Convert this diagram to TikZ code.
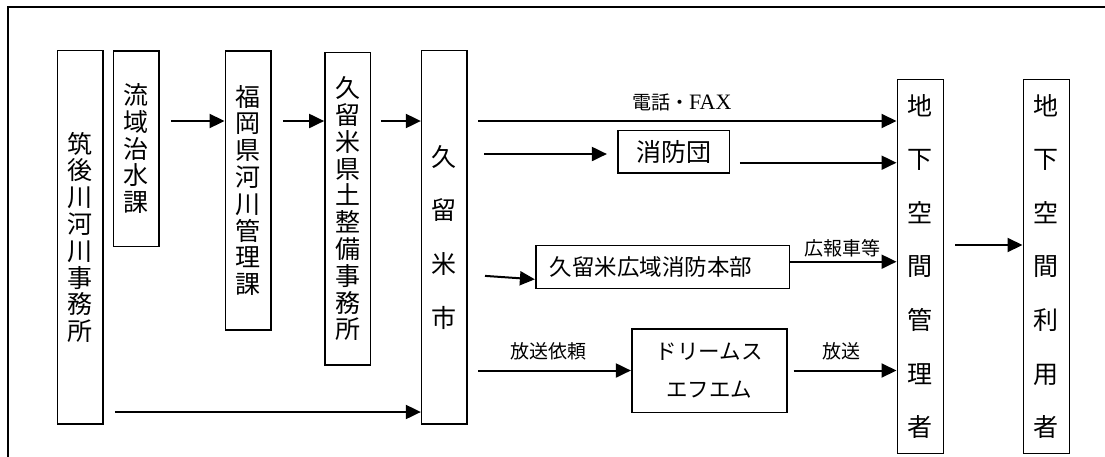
\documentclass[tikz,border=0pt]{standalone}
\usepackage{fontspec}
\newfontfamily\cjk{Noto Sans CJK JP}
\newfontfamily\ser{Liberation Serif}
\usetikzlibrary{arrows.meta}
\tikzset{
  box/.style={draw, line width=1.6, inner sep=0pt, align=center},
  vbox/.style={box, font=\cjk\fontsize{25}{26.8}\selectfont},
  wbox/.style={box, font=\cjk\fontsize{25}{53.6}\selectfont},
  lbl/.style={inner sep=0pt, font=\cjk\fontsize{19}{21}\selectfont},
  arr/.style={line width=2, -{Triangle[length=15,width=14]}},
  plain/.style={line width=2}
}
\begin{document}
\begin{tikzpicture}[x=1pt,y=-1pt]
\useasboundingbox (0,0) rectangle (1105,456);
\draw[line width=2] (8.3,460) -- (8.3,7.3) -- (1110,7.3);

% vertical boxes
\node[vbox, minimum width=45.7, minimum height=373.3] (chikugo) at (80.2,237.3) {筑\\後\\川\\河\\川\\事\\務\\所};
\node[vbox, minimum width=45.7, minimum height=195.6] (ryuiki) at (136.2,148.5) {流\\域\\治\\水\\課};
\node[vbox, minimum width=45.7, minimum height=279.3] (fukuoka) at (248.2,190.4) {福\\岡\\県\\河\\川\\管\\理\\課};
\node[vbox, minimum width=45.7, minimum height=312.3] (doboku) at (347.8,208.8) {久\\留\\米\\県\\土\\整\\備\\事\\務\\所};
\node[wbox, minimum width=45.3, minimum height=373.3] (kurume) at (444.3,237.3) {久\\留\\米\\市};
\node[wbox, minimum width=46, minimum height=374] (kanri) at (920.3,266.3) {地\\下\\空\\間\\管\\理\\者};
\node[wbox, minimum width=46, minimum height=374] (riyo) at (1046.3,266.3) {地\\下\\空\\間\\利\\用\\者};

% horizontal boxes
\node[box, font=\cjk\fontsize{25}{27}\selectfont, minimum width=111.6, minimum height=42.3] (shobodan) at (673.5,151.8) {消防団};
\node[box, font=\cjk\fontsize{22.5}{24}\selectfont, minimum height=43, text width=225.6, inner xsep=14, align=left] (koiki) at (662.5,266.8) {久留米広域消防本部};
\node[box, font=\cjk\fontsize{21.5}{38.4}\selectfont, minimum width=155, minimum height=83.3] (dreams) at (709.2,370.7) {ドリームス\\エフエム};

% labels
\node[lbl] (lfax) at (681.7,102.7) {電話・{\ser\fontsize{22}{24}\selectfont FAX}};
\node[lbl] (lirai) at (548.3,351.7) {放送依頼};
\node[lbl] (lhoso) at (841.7,351.7) {放送};
\node[lbl] (lkoho) at (842.5,248) {広報車等};

% row coordinates
\coordinate (r1) at (0,121);
\coordinate (r2) at (0,154);
\coordinate (r3) at (0,162.7);
\coordinate (r4) at (0,261.7);
\coordinate (r5) at (0,370.5);
\coordinate (r6) at (0,412);
\coordinate (r7) at (0,245);
\coordinate (k1) at (484.3,274.7);
\coordinate (k2) at (535.7,279.3);

% connectors
\draw[arr, shorten <=11] (ryuiki.east |- r1) -- (fukuoka.west |- r1);
\draw[arr, shorten <=11] (fukuoka.east |- r1) -- (doboku.west |- r1);
\draw[arr, shorten <=9.3] (doboku.east |- r1) -- (kurume.west |- r1);
\draw[arr, shorten <=11] (chikugo.east |- r6) -- (kurume.west |- r6);
\draw[arr, shorten <=10.7] (kurume.east |- r1) -- (kanri.west |- r1);
\draw[arr, shorten <=16.3, shorten >=10] (kurume.east |- r2) -- (shobodan.west |- r2);
\draw[arr, shorten <=9.7] (shobodan.east |- r3) -- (kanri.west |- r3);
\draw[arr, shorten <=17.3] (kurume.east |- k1) -- (koiki.west |- k2);
\draw[plain] (koiki.east |- r4) -- ([xshift=-14]kanri.west |- r4);
\draw[arr] ([xshift=-16]kanri.west |- r4) -- (kanri.west |- r4);
\draw[arr, shorten <=10.7] (kurume.east |- r5) -- (dreams.west |- r5);
\draw[arr, shorten <=6] (dreams.east |- r5) -- (kanri.west |- r5);
\draw[arr, shorten <=11] (kanri.east |- r7) -- (riyo.west |- r7);
\end{tikzpicture}
\end{document}
